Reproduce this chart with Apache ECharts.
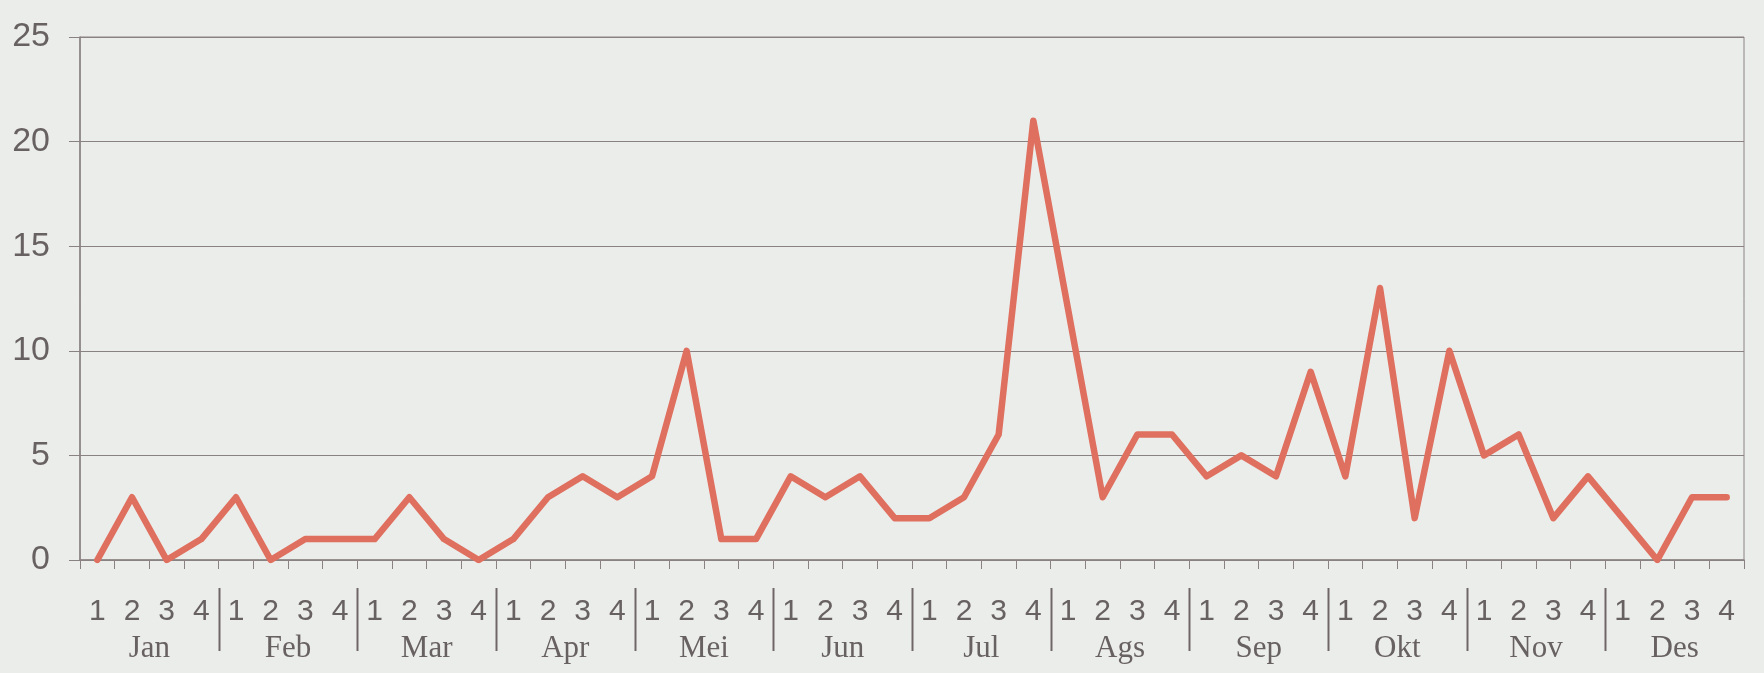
<!DOCTYPE html>
<html>
<head>
<meta charset="utf-8">
<script src="https://cdn.jsdelivr.net/npm/echarts@6/dist/echarts.min.js"></script>
<style>
  html, body { margin: 0; padding: 0; background: #ebedeb; }
  #chart { width: 1764px; height: 673px; }
</style>
</head>
<body>
<div id="chart"></div>
<script>
// bulan dan minggu
var months = ['Jan', 'Feb', 'Mar', 'Apr', 'Mei', 'Jun', 'Jul', 'Ags', 'Sep', 'Okt', 'Nov', 'Des']
var weeks = ['1', '2', '3', '4']
// nilai per minggu (12 x 4)
var values = [
  0, 3, 0, 1,
  3, 0, 1, 1,
  1, 3, 1, 0,
  1, 3, 4, 3,
  4, 10, 1, 1,
  4, 3, 4, 2,
  2, 3, 6, 21,
  12, 3, 6, 6,
  4, 5, 4, 9,
  4, 13, 2, 10,
  5, 6, 2, 4,
  2, 0, 3, 3
]
var yTicks = { min: 0, max: 25, interval: 5 }

var weekLabels = []
months.forEach(function () {
  weeks.forEach(function (w) { weekLabels.push(w) })
})

var axisColor = '#8a8282'
var textColor = '#686161'

var myChart = echarts.init(document.getElementById('chart'))
var option = {
  backgroundColor: '#ebedeb',
  animation: false,
  grid: {
    left: 80,
    right: 20,
    top: 37,
    bottom: 113,
    show: true,
    borderColor: axisColor,
    borderWidth: 1,
    containLabel: false
  },
  xAxis: [
    {
      type: 'category',
      data: weekLabels,
      boundaryGap: true,
      axisLine: { lineStyle: { color: axisColor, width: 1.5 } },
      axisTick: { show: true, interval: 0, length: 9, lineStyle: { color: axisColor } },
      axisLabel: {
        interval: 0,
        margin: 37,
        color: textColor,
        fontSize: 30,
        fontFamily: 'Liberation Sans'
      },
      splitLine: { show: false }
    },
    {
      type: 'category',
      position: 'bottom',
      data: months,
      boundaryGap: true,
      axisLine: { show: false },
      axisTick: { show: false },
      axisLabel: {
        interval: 0,
        margin: 73,
        color: textColor,
        fontSize: 31,
        fontFamily: 'Liberation Serif'
      },
      splitLine: { show: false }
    }
  ],
  yAxis: {
    type: 'value',
    min: yTicks.min,
    max: yTicks.max,
    interval: yTicks.interval,
    axisLine: { show: true, lineStyle: { color: axisColor, width: 1.5 } },
    axisTick: { show: true, length: 11, lineStyle: { color: axisColor } },
    axisLabel: {
      margin: 30,
      color: textColor,
      fontSize: 34,
      fontFamily: 'Liberation Sans',
      padding: [0, 0, 14, 0]
    },
    splitLine: { show: true, lineStyle: { color: axisColor, width: 1 } }
  },
  series: [
    {
      type: 'line',
      xAxisIndex: 0,
      data: values,
      symbol: 'none',
      smooth: false,
      lineStyle: { color: '#df6f5e', width: 6.5, cap: 'round', join: 'round' }
    }
  ]
}
myChart.setOption(option)

// garis pemisah antar bulan, posisi dari sumbu x
var sepTop = 588
var sepBottom = 651
var seps = []
for (var m = 1; m < months.length; m++) {
  var a = myChart.convertToPixel({ xAxisIndex: 0 }, 4 * m - 1)
  var b = myChart.convertToPixel({ xAxisIndex: 0 }, 4 * m)
  var x = Math.round((a + b) / 2) + 0.5
  seps.push({
    type: 'line',
    shape: { x1: x, y1: sepTop, x2: x, y2: sepBottom },
    style: { stroke: '#6f6767', lineWidth: 2 }
  })
}
myChart.setOption({ graphic: seps })
</script>
</body>
</html>
